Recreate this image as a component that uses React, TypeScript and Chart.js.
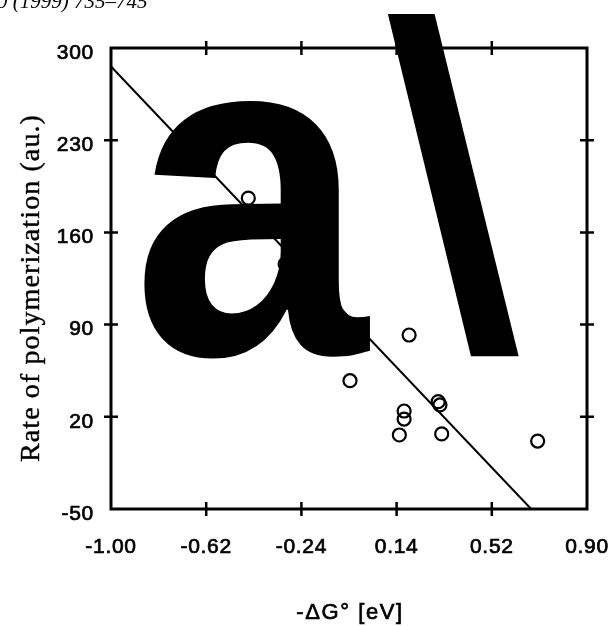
import React, { useEffect, useRef } from "react";
import { Chart, registerables } from "chart.js";

Chart.register(...registerables);

// ---- data ----
const xTickValues = [-1.0, -0.62, -0.24, 0.14, 0.52, 0.9];
const yTickValues = [-50, 20, 90, 160, 230, 300];
const deltaG = [-0.452, -0.305, -0.046, 0.151, 0.17, 0.17, 0.19, 0.306, 0.313, 0.32, 0.703];
const rate = [186, 136, 47.4, 6.2, 18.3, 24.4, 82.1, 31.5, 29, 7, 1.6];
const fitX = [-1.0, 0.677];
const fitY = [286, -50];
const xTitle = "-ΔG° [eV]";
const yTitle = "Rate of polymerization (au.)";
const panelLabel = "a\\";
const citation = "0 (1999) 735–745";

const SANS = "'Liberation Sans', Arial, Helvetica, sans-serif";
const SERIF = "'Liberation Serif', 'Times New Roman', serif";

const framePlugin = {
  id: "frameTicks",
  beforeDraw(chart: any) {
    chart.ctx.letterSpacing = "0.7px";
  },
  beforeDatasetsDraw(chart: any) {
    const { ctx, chartArea: a, scales } = chart;
    ctx.letterSpacing = "0px";
    ctx.save();
    ctx.strokeStyle = "#000";
    ctx.lineWidth = 3;
    ctx.strokeRect(a.left, a.top, a.right - a.left, a.bottom - a.top);
    ctx.lineWidth = 2.5;
    ctx.beginPath();
    for (const v of xTickValues.slice(1, -1)) {
      const px = scales.x.getPixelForValue(v);
      ctx.moveTo(px, a.bottom - 7);
      ctx.lineTo(px, a.bottom + 7);
      ctx.moveTo(px, a.top - 7);
      ctx.lineTo(px, a.top + 7);
    }
    for (const v of yTickValues.slice(1, -1)) {
      const py = scales.y.getPixelForValue(v);
      ctx.moveTo(a.left - 7, py);
      ctx.lineTo(a.left + 7, py);
      ctx.moveTo(a.right - 7, py);
      ctx.lineTo(a.right + 7, py);
    }
    ctx.stroke();
    ctx.restore();
  },
  afterDraw(chart: any) {
    const { ctx, chartArea: a } = chart;
    ctx.save();
    ctx.fillStyle = "#000";
    ctx.strokeStyle = "#000";
    ctx.textBaseline = "alphabetic";

    // axis titles
    ctx.textAlign = "center";
    ctx.letterSpacing = "1.6px";
    ctx.font = `22px ${SANS}`;
    ctx.lineWidth = 0.7;
    const xtX = (a.left + a.right) / 2 + 1;
    ctx.strokeText(xTitle, xtX, 619);
    ctx.fillText(xTitle, xtX, 619);

    ctx.save();
    ctx.letterSpacing = "1.1px";
    ctx.font = `28px ${SERIF}`;
    ctx.translate(39, 288);
    ctx.rotate(-Math.PI / 2);
    ctx.lineWidth = 0.4;
    ctx.strokeText(yTitle, 0, 0);
    ctx.fillText(yTitle, 0, 0);
    ctx.restore();

    // citation line at top
    ctx.letterSpacing = "0px";
    ctx.textAlign = "left";
    ctx.font = `italic 21px ${SERIF}`;
    ctx.fillText(citation, -3, 8);

    // big panel label overlay
    const chars = Array.from(panelLabel);
    ctx.font = `bold 470px ${SANS}`;
    ctx.save();
    ctx.setTransform(0.9, 0, 0, 1, 132, 354);
    ctx.fillText(chars[0], 0, 0);
    ctx.restore();
    ctx.save();
    ctx.setTransform(0.855, 0, 0.077, 0.977, 410, 347);
    ctx.fillText(chars[1], 0, 0);
    ctx.restore();

    ctx.restore();
  },
};

export default function App() {
  const ref = useRef<HTMLCanvasElement | null>(null);

  useEffect(() => {
    if (!ref.current) return;
    const chart = new Chart(ref.current, {
      type: "scatter",
      data: {
        datasets: [
          {
            data: fitX.map((x, i) => ({ x, y: fitY[i] })),
            showLine: true,
            borderColor: "#000",
            borderWidth: 2,
            pointRadius: 0,
            fill: false,
          },
          {
            data: deltaG.map((x, i) => ({ x, y: rate[i] })),
            pointStyle: "circle",
            pointRadius: 6.5,
            borderColor: "#000",
            borderWidth: 2.2,
            backgroundColor: "rgba(255,255,255,0)",
          },
        ],
      },
      options: {
        animation: false,
        responsive: false,
        layout: { padding: { left: 0, top: 48, right: 26, bottom: 0 } },
        plugins: { legend: { display: false }, tooltip: { enabled: false } },
        scales: {
          x: {
            type: "linear",
            min: -1,
            max: 0.9,
            afterBuildTicks: (s: any) => {
              s.ticks = xTickValues.map((v) => ({ value: v }));
            },
            afterFit: (s: any) => {
              s.height = 117;
              s.paddingLeft = 0;
              s.paddingRight = 0;
            },
            grid: { display: false, drawTicks: false },
            border: { display: false },
            ticks: {
              callback: (v: any) => Number(v).toFixed(2),
              font: { family: SANS, size: 21 },
              color: "#000",
              textStrokeColor: "#000",
              textStrokeWidth: 0.7,
              padding: 26,
              maxRotation: 0,
              autoSkip: false,
            },
            title: { display: false },
          },
          y: {
            type: "linear",
            min: -50,
            max: 300,
            afterBuildTicks: (s: any) => {
              s.ticks = yTickValues.map((v) => ({ value: v }));
            },
            afterFit: (s: any) => {
              s.width = 111;
              s.paddingTop = 0;
              s.paddingBottom = 0;
            },
            grid: { display: false, drawTicks: false },
            border: { display: false },
            ticks: {
              callback: (v: any) => String(v),
              font: { family: SANS, size: 21 },
              color: "#000",
              textStrokeColor: "#000",
              textStrokeWidth: 0.7,
              padding: 17,
              labelOffset: 5,
              autoSkip: false,
            },
            title: { display: false },
          },
        },
      },
      plugins: [framePlugin],
    } as any);
    return () => chart.destroy();
  }, []);

  return (
    <div style={{ position: "absolute", left: 0, top: 0, width: 613, height: 626, background: "#fff" }}>
      <canvas ref={ref} width={613} height={626} style={{ display: "block" }} />
    </div>
  );
}
